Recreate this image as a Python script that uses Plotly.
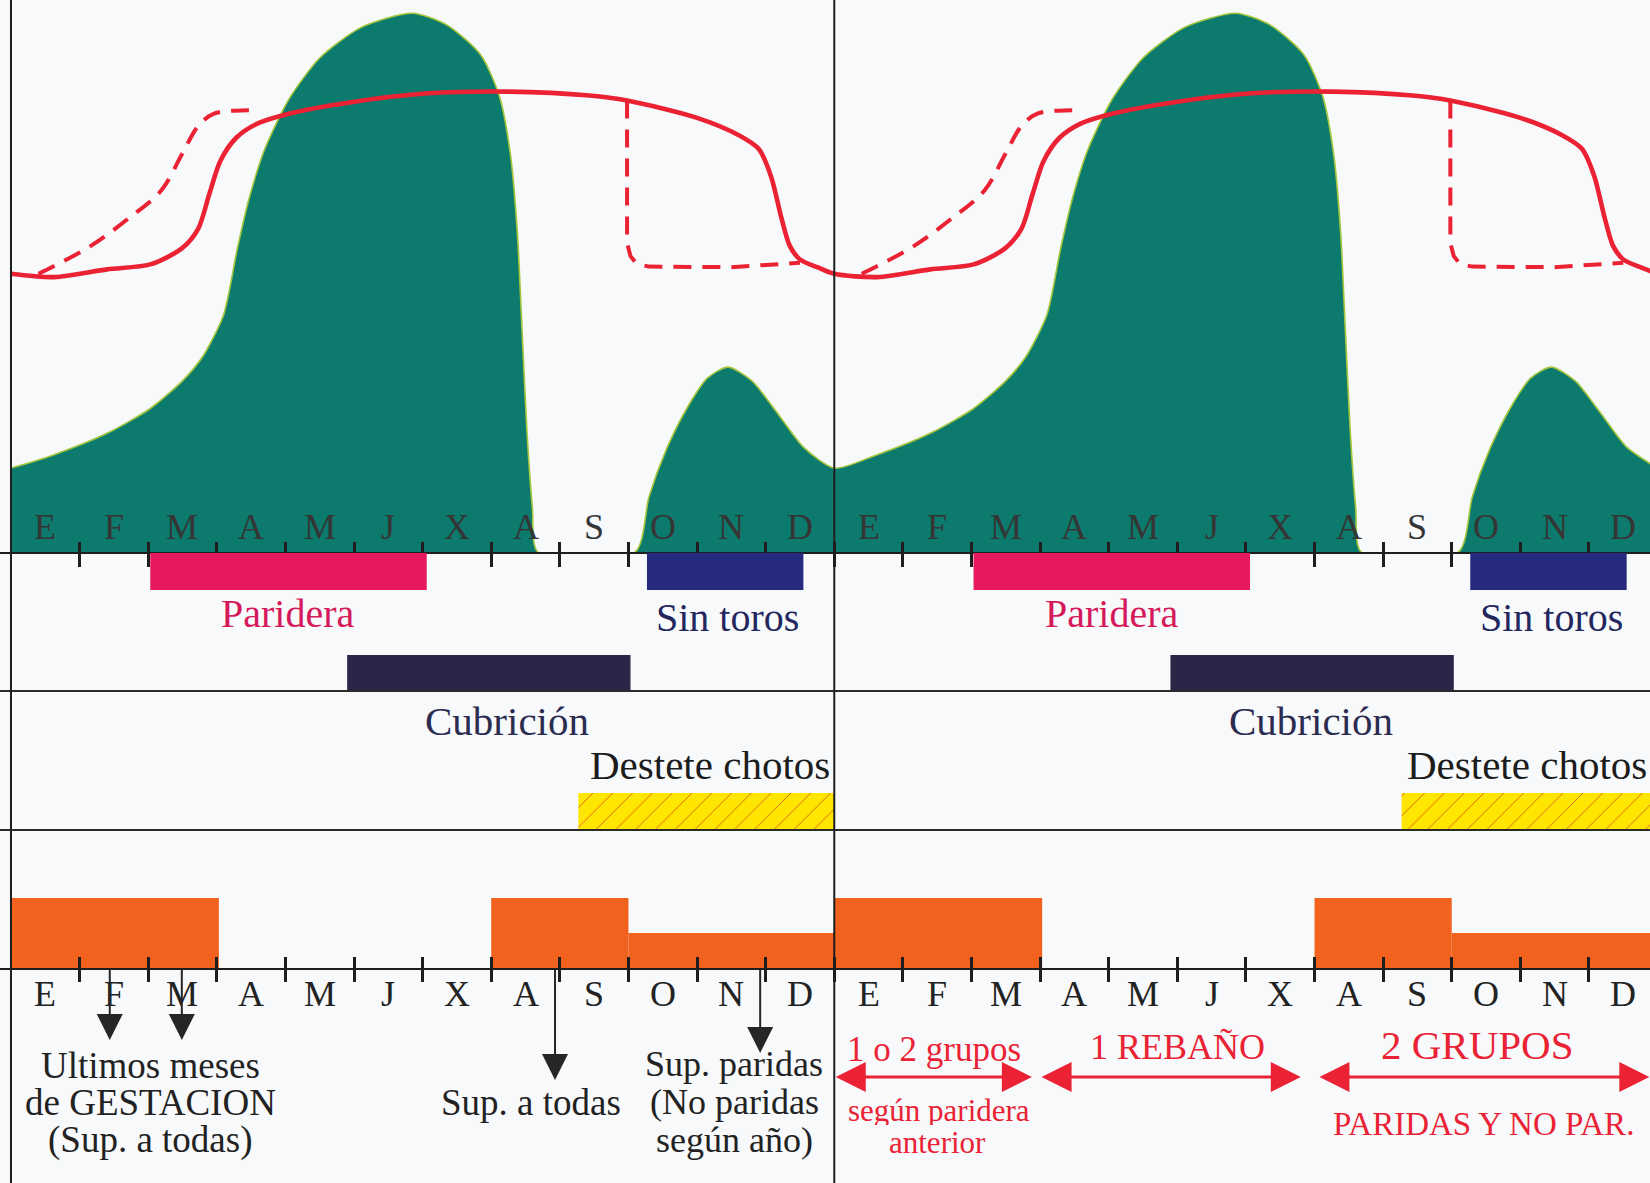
import plotly.graph_objects as go

W, H = 1650, 1183

# ---------------- data ----------------
months = ['E', 'F', 'M', 'A', 'M', 'J', 'X', 'A', 'S', 'O', 'N', 'D']
year_offsets = [0, 12]

# pasture production (green area), one year, months 0..12
pasture_m = [0, 0.6, 1.4, 2.03, 2.5, 2.8, 3.1, 3.3, 3.47, 3.7, 4.05, 4.5, 5.1, 5.85,
             6.35, 6.85, 7.12, 7.28, 7.38, 7.45, 7.52, 7.6, 7.68, 9.1, 9.3, 9.55, 9.85,
             10.15, 10.45, 10.8, 11.15, 11.55, 12.0]
pasture_v = [15.2, 17.5, 21.5, 26.0, 31.0, 35.5, 43.0, 55.0, 64.0, 73.0, 82.0, 89.5, 95.0, 97.6,
             95.5, 90.0, 82.5, 72.0, 58.0, 40.0, 22.0, 8.0, 0, 0, 10.0, 18.5, 26.0,
             31.5, 33.5, 31.0, 25.5, 19.0, 15.2]

# herd needs (solid red line)
needs_m = [0, 0.63, 1.40, 2.03, 2.49, 2.73, 2.89, 3.05, 3.28, 3.59, 4.05, 4.91, 6.08,
           7.26, 8.43, 8.98, 9.99, 10.61, 10.9, 11.08, 11.22, 11.35, 11.5, 11.75, 12.0]
needs_v = [50.4, 49.8, 51.2, 52.1, 55.0, 58.6, 64.8, 70.8, 75.0, 77.6, 79.4, 81.4, 83.1,
           83.4, 82.7, 81.8, 78.7, 75.5, 73.0, 68.0, 61.0, 55.5, 53.0, 51.6, 50.4]

# alternative needs (dashed red line), rise and fall
alt_up_m = [0.4, 0.63, 1.17, 1.72, 2.19, 2.49, 2.73, 2.96, 3.35, 3.62]
alt_up_v = [50.4, 51.8, 55.5, 60.5, 65.5, 72.0, 77.2, 79.4, 80.0, 80.0]
alt_down_m = [8.98, 8.98, 9.03, 9.12, 9.30, 10.5, 11.5]
alt_down_v = [81.8, 56.0, 53.6, 52.2, 51.7, 51.6, 52.4]

# management periods (start, end in months)
paridera = [2.03, 6.06]
sin_toros = [9.27, 11.55]
cubricion = [4.90, 9.03]
destete = [8.27, 12.0]

# supplementation blocks
supp_start = [0, 7, 9]
supp_end = [3.03, 9, 12]
supp_level = [2, 2, 1]

# supplementation arrows (month position)
gest_arrow_m = [1.44, 2.49]
todas_arrow_m = [7.93]
paridas_arrow_m = [10.92]

# herd grouping (second year)
group_start = [12.0, 15.0, 19.05]
group_end = [14.88, 18.8, 23.88]
group_text = ['1 o 2 grupos', '1 REBAÑO', '2 GRUPOS']

# ---------------- layout constants (pixels) ----------------
X_RANGE = [-0.16, 23.89]
Y_AXIS_TOP = 552
Y_AXIS_BOT = 968
Y_LINE_1 = 691
Y_LINE_2 = 830
BG = '#f7f9fb'
SERIF = 'Liberation Serif'
RED = '#ea2234'
GREEN = '#0c7a6c'


def two_years(xs, ys, continuous=True):
    if continuous:
        ox = list(xs) + [x + 12 for x in xs[1:]]
        oy = list(ys) + list(ys[1:])
    else:
        ox = list(xs) + [None] + [x + 12 for x in xs]
        oy = list(ys) + [None] + list(ys)
    return ox, oy


fig = go.Figure()

# green pasture area
gx, gy = two_years(pasture_m, pasture_v)
fig.add_trace(go.Scatter(x=gx, y=gy, mode='lines', fill='tozeroy', fillcolor=GREEN,
                         line=dict(color='#a3c63c', width=1.6, shape='spline', smoothing=0.7),
                         xaxis='x', yaxis='y', hoverinfo='skip', showlegend=False))

# dashed red
ux, uy = two_years(alt_up_m, alt_up_v, continuous=False)
fig.add_trace(go.Scatter(x=ux, y=uy, mode='lines',
                         line=dict(color=RED, width=4, dash='18px,11px', shape='spline'),
                         xaxis='x', yaxis='y', hoverinfo='skip', showlegend=False))
dx, dy = two_years(alt_down_m, alt_down_v, continuous=False)
fig.add_trace(go.Scatter(x=dx, y=dy, mode='lines',
                         line=dict(color=RED, width=4, dash='18px,11px'),
                         xaxis='x', yaxis='y', hoverinfo='skip', showlegend=False))

# solid red
sx, sy = two_years(needs_m, needs_v)
fig.add_trace(go.Scatter(x=sx, y=sy, mode='lines',
                         line=dict(color=RED, width=4.6, shape='spline', smoothing=0.8),
                         xaxis='x', yaxis='y', hoverinfo='skip', showlegend=False))

# dummy traces for tick-overlay axes
fig.add_trace(go.Scatter(x=[0], y=[0], mode='markers', marker=dict(opacity=0),
                         xaxis='x2', yaxis='y', hoverinfo='skip', showlegend=False))
fig.add_trace(go.Scatter(x=[0], y=[0], mode='markers', marker=dict(opacity=0),
                         xaxis='x4', yaxis='y3', hoverinfo='skip', showlegend=False))


def period_bars(period, row_y, thick, color, pattern=None):
    base = [period[0] + o for o in year_offsets]
    length = [period[1] - period[0]] * len(year_offsets)
    marker = dict(color=color, line=dict(width=0))
    if pattern:
        marker['pattern'] = pattern
    fig.add_trace(go.Bar(x=length, base=base, y=[row_y] * len(year_offsets),
                         width=[thick] * len(year_offsets), orientation='h',
                         marker=marker, xaxis='x', yaxis='y2',
                         hoverinfo='skip', showlegend=False))


period_bars(paridera, 571.5, 37, '#e8185c')
period_bars(sin_toros, 571.5, 37, '#262b80')
period_bars(cubricion, 673, 36, '#2b2548')
period_bars(destete, 811, 36, '#ffe600',
            pattern=dict(shape='/', fgcolor='#d8661c', bgcolor='#ffe600',
                         size=14, solidity=0.07, fillmode='replace'))

# supplementation bars
sx_c, sw, sl = [], [], []
for o in year_offsets:
    for s, e, lv in zip(supp_start, supp_end, supp_level):
        sx_c.append(o + (s + e) / 2)
        sw.append(e - s)
        sl.append(lv)
fig.add_trace(go.Bar(x=sx_c, y=sl, width=sw, marker=dict(color='#f2621f', line=dict(width=0)),
                     xaxis='x3', yaxis='y3', hoverinfo='skip', showlegend=False))

# ---------------- annotations ----------------
ann = []


def txt(x, y, s, size, color, xanchor='center', yref='y2', height=None):
    a = dict(x=x, y=y, xref='x', yref=yref, text=s, showarrow=False,
             xanchor=xanchor, yanchor='middle', valign='middle',
             font=dict(family=SERIF, size=size, color=color))
    if height:
        a['height'] = height
    ann.append(a)


destete_text_x = [11.97, 23.87]
for k, o in enumerate(year_offsets):
    for i, m in enumerate(months):
        txt(o + i + 0.5, 527, m, 36, '#353535')
        txt(o + i + 0.5, 994, m, 36, '#222222')
    txt(o + (paridera[0] + paridera[1]) / 2, 613, 'Paridera', 40, '#d6195a')
    txt(o + 10.45, 617, 'Sin toros', 40, '#24275e')
    txt(destete_text_x[k], 765, 'Destete chotos', 41, '#1c1c1c', xanchor='right')

txt(7.23, 721, 'Cubrición', 41, '#2c2c50')
txt(18.95, 721, 'Cubrición', 41, '#2c2c50')

# left panel notes
txt(2.03, 1065, 'Ultimos meses', 37, '#222222')
txt(2.03, 1102, 'de GESTACION', 37, '#222222')
txt(2.03, 1140, '(Sup. a todas)', 37, '#222222')
txt(7.58, 1102, 'Sup. a todas', 37, '#222222')
txt(10.54, 1064, 'Sup. paridas', 36, '#222222')
txt(10.54, 1102, '(No paridas', 36, '#222222')
txt(10.54, 1140, 'según año)', 36, '#222222')

# right panel group notes
txt(13.46, 1049, group_text[0], 35, RED)
txt(17.0, 1047, group_text[1], 36, RED)
txt(21.37, 1045, group_text[2], 41, RED)
txt(13.53, 1110, 'según paridera', 31, RED, height=30)
txt(13.5, 1142, 'anterior', 31, RED, height=30)
txt(21.47, 1124, 'PARIDAS Y NO PAR.', 33, RED)

# black arrows
arrow_tips = [(m, 1040) for m in gest_arrow_m] + [(m, 1080) for m in todas_arrow_m] + \
             [(m, 1053) for m in paridas_arrow_m]
for m, tip in arrow_tips:
    ann.append(dict(x=m, y=tip, ax=m, ay=Y_AXIS_BOT, xref='x', yref='y2', axref='x', ayref='y2',
                    text='', showarrow=True, arrowhead=2, arrowsize=2.6, arrowwidth=2,
                    arrowcolor='#262626', standoff=0, startstandoff=0))

# red double arrows
for s, e in zip(group_start, group_end):
    ann.append(dict(x=e, y=1077, ax=s, ay=1077, xref='x', yref='y2', axref='x', ayref='y2',
                    text='', showarrow=True, arrowside='end+start', arrowhead=2,
                    startarrowhead=2, arrowsize=2.0, startarrowsize=2.0, arrowwidth=3,
                    arrowcolor=RED, standoff=0, startstandoff=0))

# ---------------- shapes ----------------
shapes = []
for yy in [Y_LINE_1, Y_LINE_2]:
    shapes.append(dict(type='line', xref='paper', yref='y2', x0=0, x1=1, y0=yy, y1=yy,
                       line=dict(color='#2a2a2a', width=2.2), layer='above'))
for xx in [0, 12]:
    shapes.append(dict(type='line', xref='x', yref='paper', x0=xx, x1=xx, y0=0, y1=1,
                       line=dict(color='#1e1e1e', width=2), layer='above'))

# ---------------- axes ----------------
boundaries = list(range(1, 24))
ax_common = dict(range=X_RANGE, showgrid=False, zeroline=False, showticklabels=False,
                 tickmode='array', tickvals=boundaries, tickcolor='#1e1e1e', tickwidth=2.5)

fig.update_layout(
    width=W, height=H,
    margin=dict(l=0, r=0, t=0, b=0),
    paper_bgcolor=BG, plot_bgcolor='rgba(0,0,0,0)',
    showlegend=False, barmode='overlay',
    xaxis=dict(**ax_common, domain=[0, 1], anchor='y', ticks='outside', ticklen=13,
               showline=True, linecolor='#1e1e1e', linewidth=2.2),
    xaxis2=dict(**ax_common, matches='x', overlaying='x', anchor='y', ticks='inside', ticklen=10,
                showline=False),
    xaxis3=dict(**ax_common, matches='x', domain=[0, 1], anchor='y3', ticks='outside', ticklen=12,
                showline=True, linecolor='#1e1e1e', linewidth=2.2),
    xaxis4=dict(**ax_common, matches='x', overlaying='x3', anchor='y3', ticks='inside', ticklen=11,
                showline=False),
    yaxis=dict(domain=[1 - Y_AXIS_TOP / H, 1], range=[0, 100], anchor='x',
               showgrid=False, zeroline=False, showticklabels=False, showline=False),
    yaxis2=dict(domain=[0, 1], range=[H, 0], anchor='x',
                showgrid=False, zeroline=False, showticklabels=False, showline=False),
    yaxis3=dict(domain=[1 - Y_AXIS_BOT / H, 1 - (Y_AXIS_BOT - 77) / H], range=[0, 2.2], anchor='x3',
                showgrid=False, zeroline=False, showticklabels=False, showline=False),
    annotations=ann,
    shapes=shapes,
)

fig.write_html('out.html', config={'displayModeBar': False},
               post_script="document.body.style.margin='0px';")
